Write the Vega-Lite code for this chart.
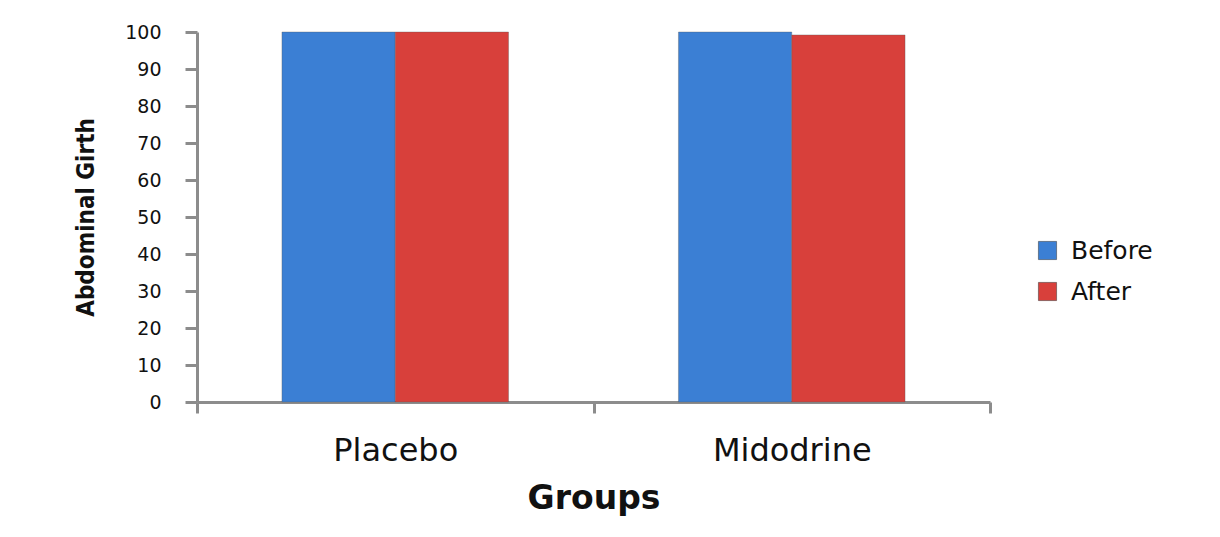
{
  "$schema": "https://vega.github.io/schema/vega-lite/v6.json",
  "autosize": "none",
  "width": 793,
  "height": 370,
  "padding": {"left": 197, "top": 32, "right": 230, "bottom": 135},
  "background": "white",
  "data": {
    "values": [
      {"group": "Placebo", "time": "Before", "girth": 100},
      {"group": "Placebo", "time": "After", "girth": 100},
      {"group": "Midodrine", "time": "Before", "girth": 100},
      {"group": "Midodrine", "time": "After", "girth": 99.2}
    ]
  },
  "mark": {"type": "bar", "strokeWidth": 1, "stroke": "#5a5a5a", "strokeOpacity": 0.35},
  "encoding": {
    "x": {
      "field": "group",
      "type": "nominal",
      "sort": ["Placebo", "Midodrine"],
      "scale": {"paddingInner": 0, "paddingOuter": 0},
      "axis": {
        "title": "Groups",
        "titleFont": "DejaVu Sans",
        "titleFontSize": 33,
        "titleFontWeight": "bold",
        "titleColor": "#111111",
        "titlePadding": 16,
        "labelFont": "DejaVu Sans",
        "labelFontSize": 32,
        "labelColor": "#111111",
        "labelPadding": 22,
        "labelAngle": 0,
        "tickBand": "extent",
        "tickColor": "#8c8c8c",
        "tickWidth": 3,
        "tickSize": 11,
        "domainColor": "#8c8c8c",
        "domainWidth": 3
      }
    },
    "xOffset": {
      "field": "time",
      "type": "nominal",
      "sort": ["Before", "After"],
      "scale": {"paddingInner": 0, "paddingOuter": 0.75}
    },
    "y": {
      "field": "girth",
      "type": "quantitative",
      "scale": {"domain": [0, 100], "nice": false},
      "axis": {
        "title": "Abdominal Girth",
        "titleFont": "DejaVu Sans Condensed, Liberation Sans Narrow, Liberation Sans",
        "titleFontSize": 24,
        "titleFontWeight": "bold",
        "titleColor": "#111111",
        "titlePadding": 26,
        "values": [0, 10, 20, 30, 40, 50, 60, 70, 80, 90, 100],
        "labelFont": "DejaVu Sans",
        "labelFontSize": 19,
        "labelColor": "#111111",
        "labelPadding": 24,
        "grid": false,
        "tickColor": "#8c8c8c",
        "tickWidth": 3,
        "tickSize": 12,
        "domainColor": "#8c8c8c",
        "domainWidth": 3
      }
    },
    "color": {
      "field": "time",
      "type": "nominal",
      "sort": ["Before", "After"],
      "scale": {"domain": ["Before", "After"], "range": ["#3b7fd4", "#d8403b"]},
      "legend": {
        "title": null,
        "orient": "none",
        "legendX": 838,
        "legendY": 206,
        "symbolType": "square",
        "symbolSize": 330,
        "symbolStrokeColor": "#333333",
        "symbolStrokeWidth": 0.5,
        "labelFont": "DejaVu Sans",
        "labelFontSize": 25,
        "labelColor": "#111111",
        "labelOffset": 11,
        "rowPadding": 15
      }
    }
  },
  "config": {
    "view": {"stroke": null}
  }
}
